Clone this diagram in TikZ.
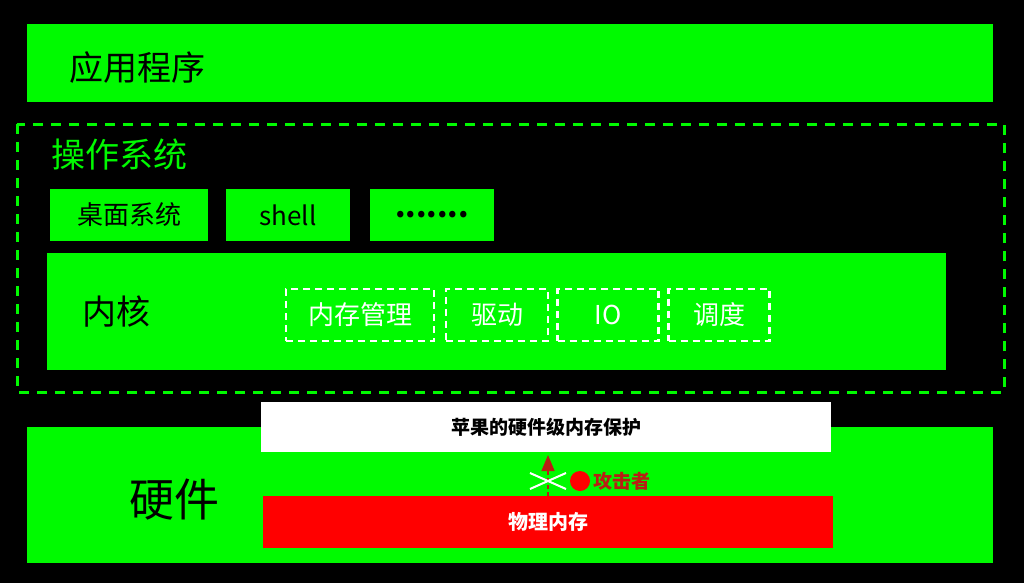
\documentclass[tikz,border=0pt]{standalone}
\usepackage{fontspec}
\setmainfont{Noto Sans CJK SC}
\usetikzlibrary{arrows.meta}
\definecolor{lgreen}{RGB}{0,250,0}
\definecolor{atkred}{RGB}{185,30,20}

\begin{document}
\begin{tikzpicture}[x=1pt,y=-1pt,
    box/.style={fill=lgreen, inner sep=0pt, font=\fontsize{26}{28}\selectfont},
    kbox/.style={draw=white, dash pattern=on 7pt off 5pt, line width=2.5pt, inner sep=0pt, text=white, font=\fontsize{26}{28}\selectfont},
    layer/.style={fill=lgreen},
    bigtxt/.style={anchor=west, inner sep=0pt}]
        % Background
        \fill[black] (0,0) rectangle (1024,583);

        % Application layer
        \fill[layer] (27,24) rectangle (993,102);
        \node[bigtxt, font=\fontsize{34}{36}\selectfont] (applbl) at (69,68) {应用程序};

        % Operating system
        \draw[lgreen, line width=3pt, dash pattern=on 10pt off 8pt] (17,124) rectangle (1004,392);
        \node[bigtxt, text=lgreen, font=\fontsize{34}{36}\selectfont] (oslbl) at (51,155) {操作系统};
            \node[box, minimum width=158, minimum height=52] (desk) at (129,215) {桌面系统};
            \node[box, minimum width=124, minimum height=52] (shell) at (288,215) {shell};
            \node[box, minimum width=124, minimum height=52, font=\bfseries\fontsize{30}{32}\selectfont] (more) at (432,215) {\raisebox{-4pt}{.......}};

        % Kernel
        \fill[layer] (47,253) rectangle (946,370);
        \node[bigtxt, font=\fontsize{34}{36}\selectfont] (kernlbl) at (82,312) {内核};
            \node[kbox, minimum width=148, minimum height=52] (memmgr) at (360,315) {内存管理};
            \node[kbox, minimum width=102, minimum height=52] (drv) at (497,315) {驱动};
            \node[kbox, minimum width=101, minimum height=52] (io) at (608,315) {IO};
            \node[kbox, minimum width=101, minimum height=52] (sched) at (719,315) {调度};

        % Hardware
        \fill[layer] (27,427) rectangle (993,563);
        \node[bigtxt, font=\fontsize{45}{47}\selectfont] (hwlbl) at (129,500) {硬件};
            \node[fill=white, minimum width=570, minimum height=50, inner sep=0pt, font=\bfseries\fontsize{19}{21}\selectfont] (prot) at (546,427) {苹果的硬件级内存保护};
            \node[fill=red, text=white, minimum width=570, minimum height=52, inner sep=0pt, font=\bfseries\fontsize{20}{22}\selectfont] (mem) at (548,522) {物理内存};

        % Attacker
        \coordinate (tip) at (548,455);
        \coordinate (cross) at (548,481);
        \draw[atkred, line width=1.5pt, dash pattern=on 4pt off 3pt, -{Triangle[length=16pt,width=13pt]}] (mem.north -| tip) -- (tip);
        \draw[white, line width=2pt] ([shift={(-18,-8)}]cross) -- ([shift={(18,8)}]cross);
        \draw[white, line width=2pt] ([shift={(-18,8)}]cross) -- ([shift={(18,-8)}]cross);
        \node[circle, fill=red, inner sep=0pt, minimum size=20] (atk) at (580,481) {};
        \node[anchor=west, inner sep=0pt, text=atkred, font=\bfseries\fontsize{19}{21}\selectfont] (atklbl) at ([xshift=3pt]atk.east) {攻击者};
\end{tikzpicture}
\end{document}
